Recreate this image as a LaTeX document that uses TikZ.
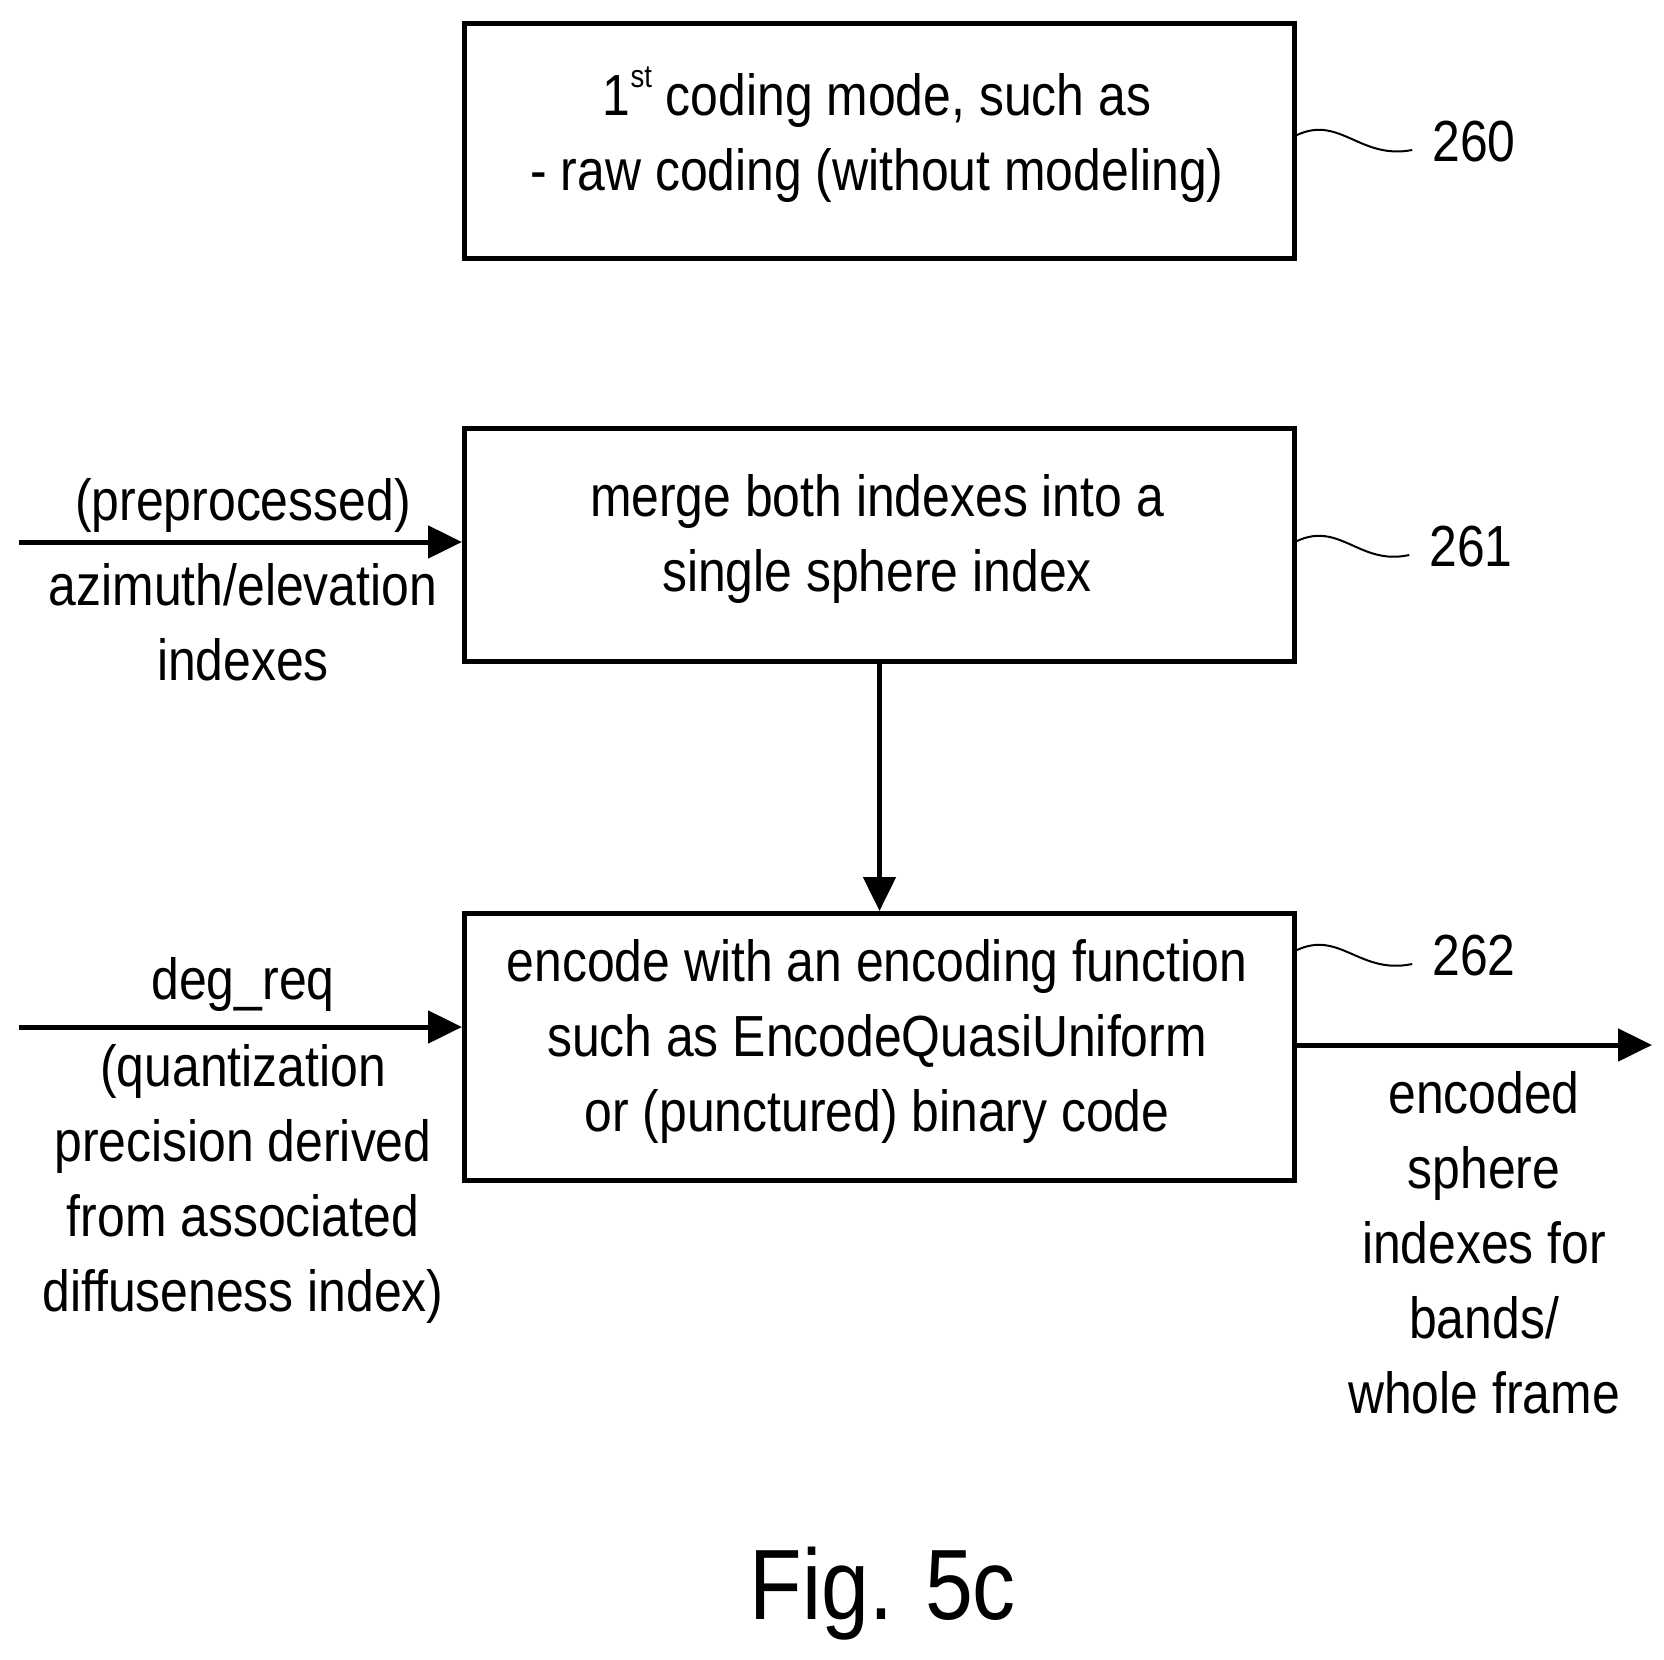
\documentclass[tikz,border=0pt]{standalone}
\usepackage{fontspec}
\setmainfont{Liberation Sans}[FakeStretch=0.86]
\usetikzlibrary{arrows.meta}
\begin{document}
\begin{tikzpicture}[x=1pt,y=-1pt,
  box/.style={draw,line width=5pt},
  txt/.style={font=\fontsize{58}{75}\selectfont,align=center,inner sep=0},
  arr/.style={line width=5pt,-{Triangle[length=34pt,width=32pt]}},
  sq/.style={line width=2pt}]
\useasboundingbox (0,0) rectangle (1664,1659);
\node[box,minimum width=830pt,minimum height=235pt,anchor=north west] (b1) at (462,21) {};
\node[box,minimum width=830pt,minimum height=233pt,anchor=north west] (b2) at (462,426) {};
\node[box,minimum width=830pt,minimum height=267pt,anchor=north west] (b3) at (462,911) {};
\node[txt] (t1) at (877,135) {1\raisebox{28pt}{\fontsize{32}{32}\selectfont st} coding mode, such as\\- raw coding (without modeling)};
\node[txt] (t2) at (877,539) {merge both indexes into a\\single sphere index};
\node[txt] (t3) at (877,1041) {encode with an encoding function\\such as EncodeQuasiUniform\\or (punctured) binary code};
\coordinate (i1) at (19,542);
\coordinate (i2) at (19,1027);
\coordinate (o) at (1652,1045);
\draw[arr] (i1) -- (b2.west |- i1);
\draw[arr] (i2) -- (b3.west |- i2);
\draw[arr] (b3.east |- o) -- (o);
\draw[arr] (b2.south) -- (b3.north);
\node[txt] (l1) at (243,580) {(preprocessed)\\[10pt]azimuth/elevation\\indexes};
\node[txt] (l2) at (243,1140) {deg\_req\\[12pt](quantization\\precision derived\\from associated\\diffuseness index)};
\node[txt] (r1) at (1484,1243) {encoded\\sphere\\indexes for\\bands/\\whole frame};
\node[txt] (n260) at (1474,142) {260};
\node[txt] (n261) at (1471,547) {261};
\node[txt] (n262) at (1474,956) {262};
\draw[sq] (b1.east |- 0,135) .. controls (1340,115) and (1360,160) .. ([xshift=-20pt,yshift=-8pt]n260.west);
\draw[sq] (b2.east |- 0,541) .. controls (1340,521) and (1360,566) .. ([xshift=-20pt,yshift=-8pt]n261.west);
\draw[sq] (b3.east |- 0,950) .. controls (1340,930) and (1360,975) .. ([xshift=-20pt,yshift=-8pt]n262.west);
\node[inner sep=0,font=\fontsize{100}{100}\selectfont] (fig) at (883,1594) {Fig. 5c};
\end{tikzpicture}
\end{document}
